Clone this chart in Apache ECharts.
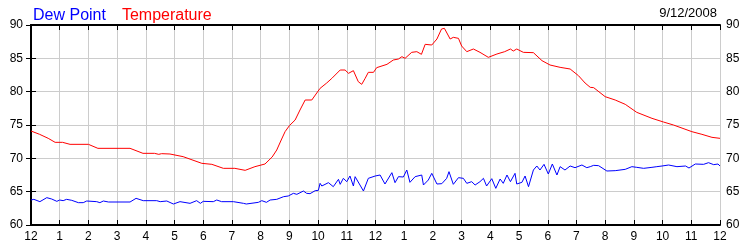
<!DOCTYPE html>
<html>
<head>
<meta charset="utf-8">
<script src="https://cdn.jsdelivr.net/npm/echarts@6/dist/echarts.min.js"></script>
<style>html,body{margin:0;padding:0;background:#fff;}#c{width:750px;height:250px;}</style>
</head>
<body>
<div id="c"></div>
<script>
var hourLabels = ['12','1','2','3','4','5','6','7','8','9','10','11','12','1','2','3','4','5','6','7','8','9','10','11','12'];
var yTicks = [60, 65, 70, 75, 80, 85, 90];
var dateText = '9/12/2008';

var tempHours = [0,0.3,0.6,0.84,1.1,1.36,2.0,2.33,3.45,3.9,4.3,4.45,4.55,4.84,5.3,5.95,6.3,6.7,7.1,7.46,7.8,8.15,8.4,8.56,8.7,8.85,9.0,9.2,9.37,9.55,9.78,10.07,10.3,10.48,10.77,10.94,11.06,11.23,11.4,11.52,11.64,11.75,11.93,12.04,12.4,12.62,12.8,12.92,13.03,13.26,13.44,13.6,13.73,13.96,14.14,14.3,14.4,14.6,14.71,14.89,15.0,15.18,15.41,15.64,15.93,16.23,16.5,16.7,16.8,16.92,17.15,17.5,17.8,18.08,18.43,18.78,19.07,19.3,19.48,19.6,20.0,20.35,20.7,21.1,21.63,22.03,22.38,23.02,23.37,23.72,24];
var tempValues = [74.1,73.6,73.0,72.4,72.4,72.1,72.1,71.5,71.5,70.75,70.75,70.6,70.7,70.65,70.25,69.25,69.1,68.5,68.5,68.2,68.75,69.15,70.2,71.25,72.6,74.0,74.9,75.75,77.25,78.75,78.75,80.5,81.3,82.0,83.25,83.25,82.75,83.15,81.5,81.1,82.0,82.9,82.9,83.6,84.1,84.75,84.9,85.25,85.0,85.9,86.0,85.6,87.1,87.0,87.9,89.4,89.5,87.9,88.15,88.0,86.85,86.0,86.4,85.9,85.15,85.65,86.0,86.4,86.1,86.4,85.9,85.85,84.65,84.0,83.65,83.4,82.4,81.3,80.65,80.6,79.25,78.75,78.1,76.9,76.0,75.45,75.0,74.0,73.6,73.15,73.0];

var dewHours = [0,0.1,0.31,0.55,0.72,0.9,1.0,1.12,1.24,1.42,1.65,1.82,1.94,2.29,2.4,2.52,2.7,3.45,3.66,3.91,4.38,4.5,4.73,4.96,5.19,5.54,5.77,5.9,6.0,6.35,6.47,6.64,7.05,7.4,7.5,7.92,8.04,8.2,8.33,8.56,8.8,8.96,9.14,9.26,9.49,9.6,9.72,9.9,10.01,10.07,10.13,10.36,10.53,10.71,10.77,10.88,11.0,11.11,11.23,11.29,11.58,11.75,11.99,12.16,12.33,12.57,12.68,12.8,12.97,13.09,13.2,13.38,13.61,13.67,13.84,13.96,14.14,14.31,14.48,14.56,14.71,14.89,15.06,15.18,15.35,15.47,15.64,15.76,15.87,16.05,16.19,16.34,16.45,16.58,16.7,16.86,16.92,17.1,17.21,17.33,17.5,17.62,17.73,17.87,18.02,18.16,18.32,18.43,18.6,18.78,18.95,19.19,19.36,19.48,19.6,19.77,20.06,20.35,20.7,20.93,21.1,21.34,21.63,21.8,21.98,22.21,22.5,22.8,22.92,23.14,23.43,23.6,23.78,23.93,24];
var dewValues = [63.75,63.85,63.5,64.1,63.9,63.55,63.75,63.65,63.85,63.7,63.35,63.35,63.6,63.5,63.35,63.6,63.45,63.45,64.0,63.65,63.65,63.5,63.6,63.15,63.5,63.25,63.65,63.25,63.55,63.5,63.75,63.5,63.5,63.25,63.15,63.4,63.65,63.4,63.75,63.85,64.25,64.35,64.75,64.6,65.1,64.75,64.7,65.15,65.2,66.25,65.85,66.35,65.75,66.85,66.1,67.0,66.5,67.35,65.85,67.25,65.1,67.0,67.35,67.5,66.15,67.85,66.35,67.25,67.2,68.25,66.4,67.25,67.5,66.0,66.75,67.75,66.15,66.2,67.0,68.0,66.1,67.1,67.0,66.25,66.5,66.0,66.5,67.0,65.85,66.95,65.5,66.9,66.25,67.5,66.5,67.75,66.15,66.4,67.35,65.75,68.25,68.85,68.25,69.1,67.65,69.15,67.5,68.75,68.25,68.85,68.6,69.0,68.6,68.75,68.95,68.9,68.1,68.15,68.35,68.75,68.65,68.5,68.65,68.75,68.85,69.0,68.75,68.85,68.55,69.15,69.1,69.35,69.05,69.15,68.85];

function pairs(xs, ys) { return xs.map(function (x, i) { return [x, ys[i]]; }); }

var FONT = '"Liberation Sans", Arial, sans-serif';
var axisLineStyle = { color: '#000', width: 2 };
var gridLine = { show: true, lineStyle: { color: '#cccccc', width: 1 } };

var chart = echarts.init(document.getElementById('c'), null, { renderer: 'canvas' });
chart.setOption({
  animation: false,
  backgroundColor: '#ffffff',
  title: {
    text: dateText, right: 28, top: 2,
    textStyle: { fontFamily: FONT, fontSize: 13, fontWeight: 'normal', color: '#000' }
  },
  legend: {
    left: 23, top: 3, itemWidth: 0, itemHeight: 0, itemGap: 11, icon: 'rect',
    selectedMode: false,
    data: [
      { name: 'Dew Point', textStyle: { color: '#0000ff' } },
      { name: 'Temperature', textStyle: { color: '#ff0000' } }
    ],
    textStyle: { fontFamily: FONT, fontSize: 16 }
  },
  grid: { left: 31, right: 30, top: 25, bottom: 25, containLabel: false },
  xAxis: [
    {
      type: 'value', min: 0, max: 24, interval: 1, position: 'bottom',
      axisLine: { show: true, lineStyle: axisLineStyle },
      axisTick: { show: true, inside: true, length: 5, lineStyle: { color: '#000' } },
      axisLabel: { margin: 6, color: '#000', fontFamily: FONT, fontSize: 12,
        formatter: function (v) { return hourLabels[Math.round(v)]; } },
      splitLine: gridLine
    },
    {
      type: 'value', min: 0, max: 24, interval: 1, position: 'top',
      axisLine: { show: true, lineStyle: axisLineStyle },
      axisTick: { show: true, inside: true, length: 5, lineStyle: { color: '#000' } },
      axisLabel: { show: false },
      splitLine: { show: false }
    }
  ],
  yAxis: [
    {
      type: 'value', min: yTicks[0], max: yTicks[yTicks.length - 1], interval: 5, position: 'left',
      axisLine: { show: true, lineStyle: axisLineStyle },
      axisTick: { show: true, inside: true, length: 5, lineStyle: { color: '#000' } },
      axisLabel: { margin: 8, color: '#000', fontFamily: FONT, fontSize: 12 },
      splitLine: gridLine
    },
    {
      type: 'value', min: yTicks[0], max: yTicks[yTicks.length - 1], interval: 5, position: 'right',
      axisLine: { show: true, lineStyle: axisLineStyle },
      axisTick: { show: true, inside: true, length: 5, lineStyle: { color: '#000' } },
      axisLabel: { margin: 6, color: '#000', fontFamily: FONT, fontSize: 12 },
      splitLine: { show: false }
    }
  ],
  series: [
    {
      name: 'Temperature', type: 'line', xAxisIndex: 0, yAxisIndex: 0,
      data: pairs(tempHours, tempValues), showSymbol: false, symbol: 'none',
      lineStyle: { color: '#ff0000', width: 1 }, itemStyle: { color: '#ff0000' }
    },
    {
      name: 'Dew Point', type: 'line', xAxisIndex: 0, yAxisIndex: 0,
      data: pairs(dewHours, dewValues), showSymbol: false, symbol: 'none',
      lineStyle: { color: '#0000ff', width: 1 }, itemStyle: { color: '#0000ff' }
    }
  ]
});
</script>
</body>
</html>
